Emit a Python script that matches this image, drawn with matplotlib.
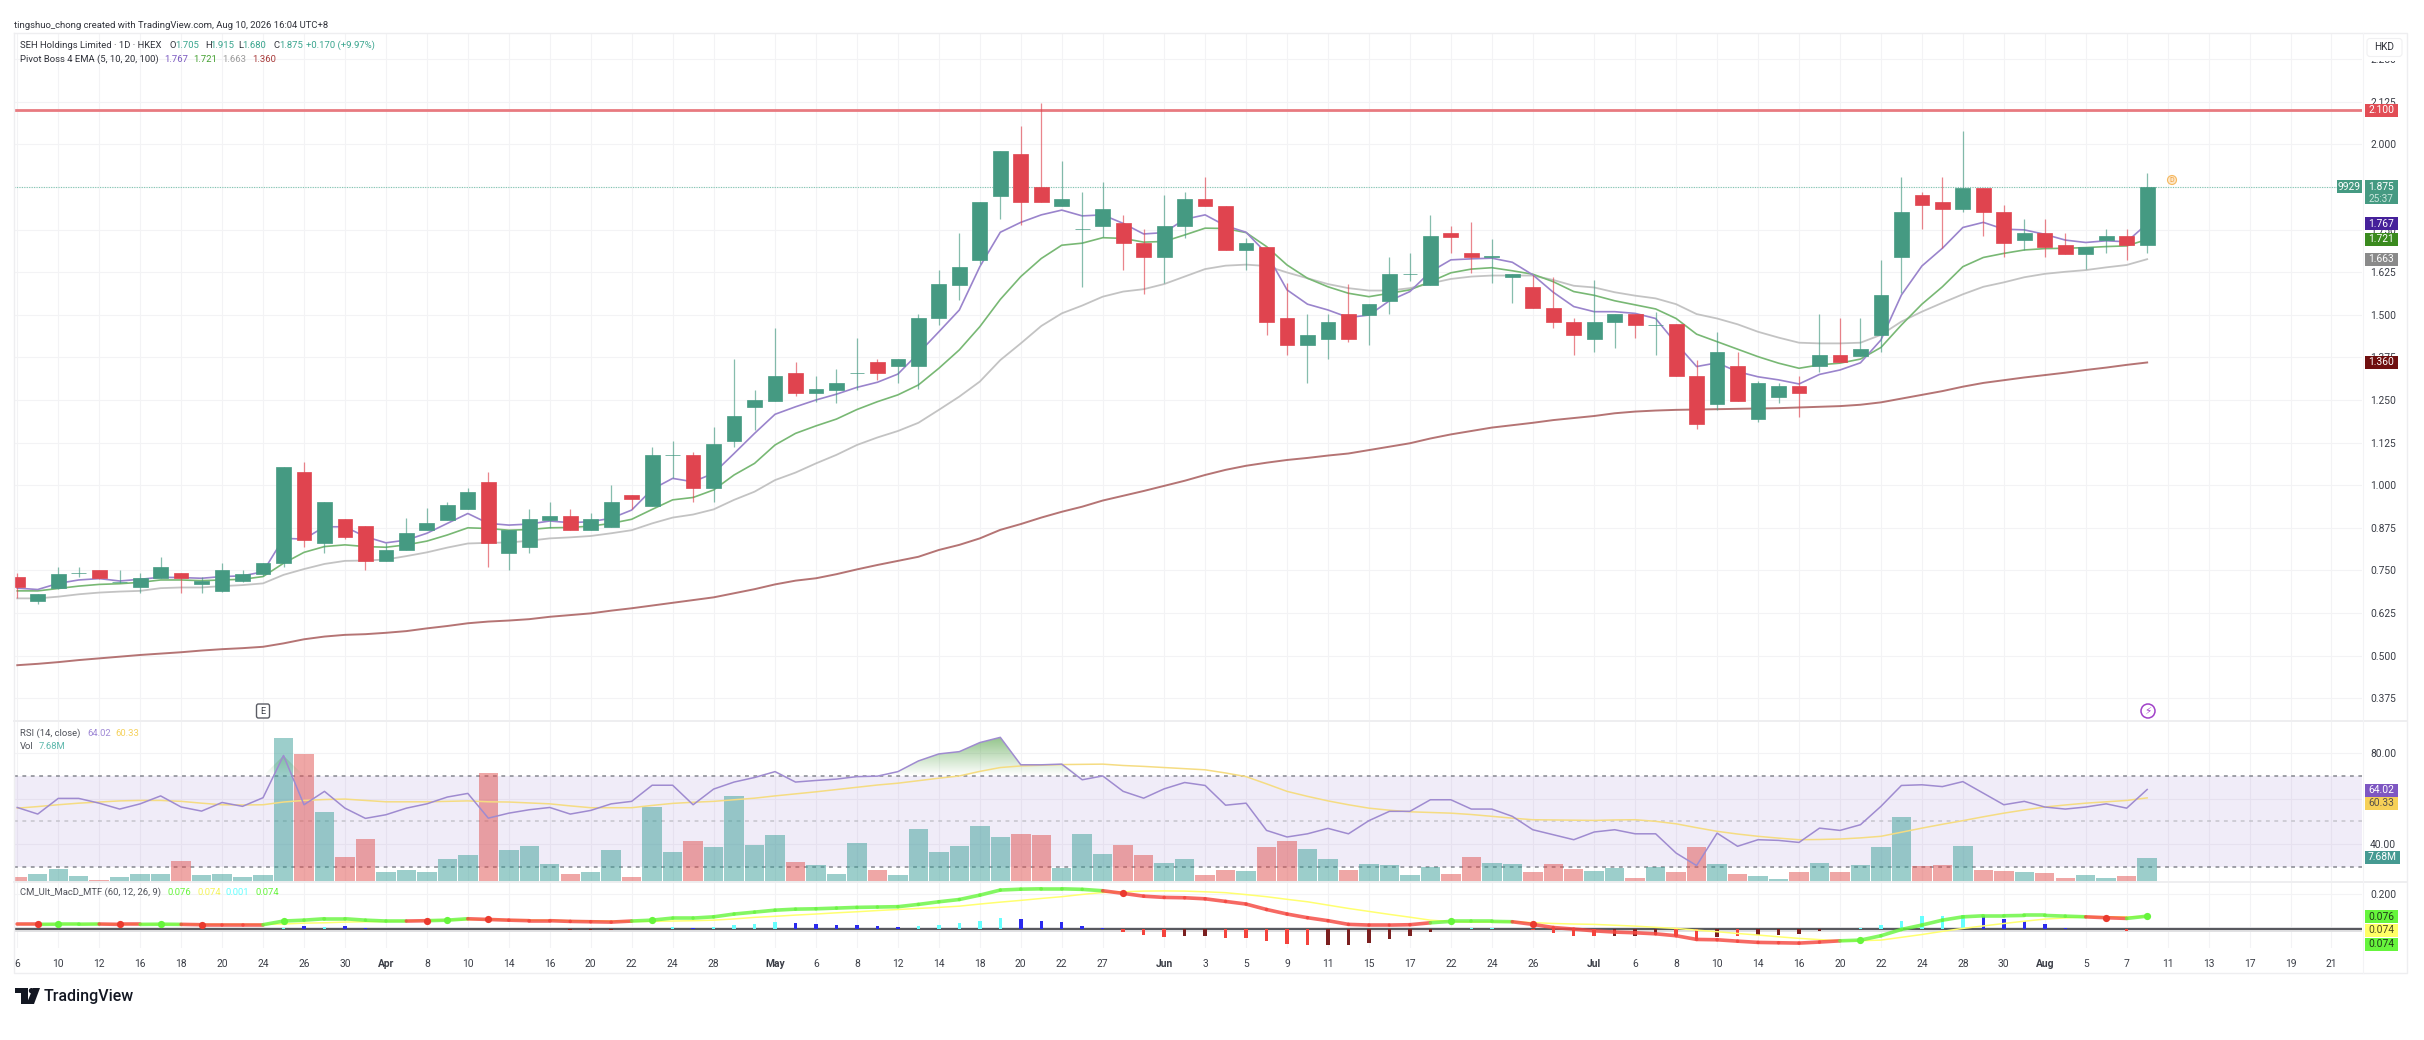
import numpy as np
import matplotlib
matplotlib.use("Agg")
import matplotlib.pyplot as plt
from matplotlib.collections import LineCollection
from matplotlib.patches import Rectangle, Circle, Polygon, FancyBboxPatch

plt.rcParams['font.family'] = ['Roboto', 'DejaVu Sans']

# candles
opens = [.73,.66,.697,.742,.751,.715,.70,.729,.742,.709,
         .689,.719,.739,.771,1.039,.829,.901,.879,.779,.81,
         .868,.899,.929,1.009,.80,.819,.898,.911,.868,.878,
         .97,.939,1.09,1.09,.991,1.129,1.229,1.248,1.33,1.269,
         1.278,1.329,1.36,1.35,1.35,1.489,1.587,1.661,1.849,1.971,
         1.874,1.82,1.753,1.759,1.77,1.71,1.669,1.759,1.841,1.82,
         1.689,1.70,1.489,1.41,1.429,1.502,1.499,1.539,1.62,1.587,
         1.741,1.68,1.669,1.61,1.58,1.52,1.48,1.429,1.48,1.502,
         1.47,1.472,1.321,1.238,1.351,1.195,1.26,1.29,1.351,1.382,
         1.38,1.441,1.67,1.85,1.83,1.811,1.873,1.80,1.719,1.74,
         1.704,1.679,1.718,1.73,1.705]
highs = [.741,.68,.761,.759,.751,.751,.741,.79,.742,.732,
         .771,.751,.771,1.052,1.069,.95,.901,.879,.829,.903,
         .932,.952,.991,1.04,.87,.93,.95,.93,.919,1.001,
         .97,1.111,1.131,1.098,1.17,1.369,1.279,1.46,1.362,1.32,
         1.34,1.431,1.37,1.37,1.502,1.631,1.741,1.83,1.981,2.054,
         2.122,1.952,1.859,1.89,1.793,1.752,1.851,1.861,1.903,1.82,
         1.724,1.70,1.592,1.502,1.502,1.59,1.532,1.67,1.68,1.793,
         1.761,1.771,1.722,1.62,1.617,1.612,1.49,1.602,1.502,1.502,
         1.509,1.472,1.368,1.45,1.392,1.307,1.301,1.32,1.502,1.49,
         1.49,1.661,1.903,1.861,1.903,2.04,1.873,1.821,1.781,1.781,
         1.741,1.699,1.752,1.752,1.915]
lows = [.668,.652,.695,.73,.725,.712,.683,.727,.683,.683,
        .688,.717,.734,.761,.82,.802,.841,.751,.779,.81,
        .868,.899,.929,.761,.751,.802,.873,.869,.868,.878,
        .93,.939,1.02,.952,.952,1.113,1.162,1.248,1.262,1.245,
        1.242,1.279,1.309,1.301,1.281,1.47,1.543,1.649,1.781,1.763,
        1.83,1.82,1.582,1.727,1.631,1.561,1.592,1.724,1.82,1.69,
        1.631,1.441,1.382,1.301,1.37,1.421,1.411,1.502,1.60,1.587,
        1.68,1.621,1.592,1.533,1.519,1.46,1.382,1.39,1.401,1.431,
        1.382,1.32,1.165,1.22,1.248,1.185,1.242,1.20,1.333,1.36,
        1.38,1.392,1.563,1.752,1.695,1.802,1.732,1.67,1.69,1.67,
        1.679,1.633,1.68,1.661,1.68]
closes = [.70,.68,.74,.742,.728,.715,.728,.76,.728,.72,
          .75,.74,.771,1.052,.839,.95,.849,.779,.81,.859,
          .888,.941,.979,.829,.87,.901,.911,.869,.901,.95,
          .96,1.09,1.09,.991,1.12,1.202,1.25,1.321,1.27,1.281,
          1.301,1.329,1.33,1.37,1.489,1.59,1.64,1.83,1.981,1.83,
          1.83,1.841,1.753,1.81,1.709,1.669,1.761,1.841,1.82,1.69,
          1.709,1.48,1.41,1.441,1.48,1.429,1.532,1.62,1.62,1.731,
          1.729,1.669,1.671,1.62,1.519,1.48,1.441,1.48,1.502,1.47,
          1.47,1.32,1.18,1.392,1.248,1.301,1.291,1.269,1.382,1.36,
          1.40,1.559,1.80,1.821,1.81,1.873,1.80,1.71,1.741,1.70,
          1.679,1.699,1.731,1.704,1.875]

ema5 = [.698,.694,.712,.722,.726,.719,.724,.730,.729,.727,
        .732,.734,.746,.844,.842,.878,.878,.849,.831,.839,
        .859,.888,.917,.888,.883,.886,.895,.890,.893,.903,
        .927,.988,1.020,1.010,1.035,1.093,1.152,1.208,1.230,1.250,
        1.267,1.287,1.302,1.326,1.387,1.450,1.514,1.641,1.742,1.771,
        1.793,1.807,1.790,1.793,1.768,1.737,1.741,1.780,1.793,1.761,
        1.742,1.680,1.573,1.531,1.514,1.492,1.499,1.541,1.568,1.626,
        1.661,1.664,1.666,1.654,1.617,1.566,1.524,1.509,1.509,1.504,
        1.489,1.416,1.348,1.359,1.333,1.318,1.309,1.297,1.325,1.338,
        1.359,1.426,1.558,1.643,1.695,1.756,1.771,1.751,1.749,1.736,
        1.719,1.712,1.717,1.714,1.767]
ema10 = [.690,.690,.697,.704,.709,.711,.715,.722,.722,.720,
         .722,.724,.732,.771,.803,.820,.825,.820,.818,.825,
         .836,.854,.875,.873,.868,.870,.875,.876,.880,.888,
         .900,.929,.957,.964,.986,1.030,1.064,1.118,1.152,1.174,
         1.194,1.222,1.245,1.265,1.294,1.343,1.397,1.465,1.545,1.612,
         1.665,1.704,1.710,1.726,1.724,1.713,1.715,1.734,1.754,1.753,
         1.741,1.700,1.646,1.607,1.582,1.563,1.553,1.563,1.573,1.597,
         1.623,1.634,1.638,1.629,1.619,1.597,1.568,1.557,1.541,1.529,
         1.517,1.489,1.443,1.421,1.399,1.377,1.358,1.343,1.353,1.358,
         1.370,1.404,1.470,1.531,1.582,1.641,1.668,1.680,1.690,1.694,
         1.695,1.697,1.700,1.702,1.721]
ema20 = [.668,.668,.673,.680,.685,.688,.690,.698,.700,.700,
         .704,.707,.712,.737,.754,.769,.778,.779,.782,.792,
         .803,.817,.829,.831,.832,.837,.844,.847,.851,.859,
         .868,.888,.905,.914,.929,.957,.981,1.015,1.037,1.064,
         1.089,1.118,1.140,1.159,1.183,1.221,1.260,1.304,1.367,1.416,
         1.467,1.504,1.527,1.553,1.568,1.575,1.590,1.612,1.634,1.644,
         1.647,1.643,1.624,1.607,1.590,1.578,1.571,1.571,1.578,1.592,
         1.605,1.612,1.615,1.615,1.615,1.602,1.585,1.580,1.566,1.556,
         1.548,1.531,1.502,1.489,1.472,1.450,1.433,1.418,1.416,1.416,
         1.418,1.441,1.480,1.509,1.535,1.560,1.582,1.595,1.610,1.620,
         1.626,1.631,1.639,1.646,1.663]
ema100 = [.472,.476,.481,.487,.492,.497,.502,.506,.510,.515,
          .519,.522,.526,.536,.548,.556,.561,.563,.567,.572,
          .580,.587,.595,.600,.603,.607,.614,.619,.624,.632,
          .639,.647,.655,.663,.671,.683,.695,.709,.720,.727,
          .739,.753,.766,.778,.790,.810,.825,.844,.869,.886,
          .905,.922,.937,.955,.969,.983,.998,1.013,1.030,1.045,
          1.057,1.066,1.074,1.080,1.087,1.093,1.103,1.113,1.123,1.137,
          1.149,1.159,1.169,1.176,1.183,1.191,1.197,1.203,1.211,1.216,
          1.219,1.221,1.222,1.223,1.224,1.225,1.226,1.228,1.230,1.232,
          1.236,1.243,1.254,1.265,1.276,1.289,1.300,1.308,1.316,1.323,
          1.330,1.338,1.345,1.353,1.360]

rsi = [56.1,53.2,60.1,60.1,58.0,55.4,57.7,61.2,56.3,54.5,
       58.3,56.6,60.4,79.0,57.3,63.2,55.8,51.3,52.9,55.8,
       57.7,60.7,62.3,51.4,53.6,55.1,56.1,53.2,54.8,57.7,
       58.8,65.9,65.9,57.3,64.2,67.3,69.3,71.9,67.3,68.0,
       68.6,69.7,69.9,71.9,76.6,79.7,80.7,84.7,87.0,74.9,
       74.9,75.2,68.3,70.0,63.2,60.2,64.3,67.1,65.8,57.1,
       58.0,46.0,43.1,44.5,46.9,44.5,50.3,54.4,54.4,59.5,
       59.5,55.4,55.4,52.2,46.3,44.1,41.9,45.3,46.3,44.5,
       44.5,36.0,30.5,44.8,39.0,41.9,41.6,40.7,47.0,46.0,
       48.5,56.6,65.8,66.1,65.3,67.5,62.4,57.3,58.8,56.3,
       55.4,56.3,57.7,55.8,64.02]
rsi_ma = [55.8,56.5,57.3,58.0,58.5,59.0,59.2,59.2,58.8,58.0,
          57.3,57.2,57.3,58.5,59.2,59.6,59.8,59.2,58.6,58.6,
          58.6,58.8,59.0,58.6,58.5,58.1,57.7,56.8,56.0,56.0,
          56.0,57.0,57.9,58.4,58.8,59.5,60.2,61.2,62.1,63.0,
          64.0,65.0,66.0,66.8,67.9,69.0,70.0,72.0,73.7,74.4,
          74.7,75.0,75.1,75.2,74.6,74.2,73.7,73.2,72.7,71.3,
          69.7,66.5,63.2,61.0,59.0,57.3,55.8,54.9,54.2,53.9,
          53.6,53.0,52.2,51.4,50.7,50.6,50.5,50.4,50.6,50.7,
          50.0,48.9,47.2,45.6,44.4,43.4,42.6,41.9,42.0,42.2,
          42.7,43.4,45.2,47.0,48.7,50.3,52.0,53.6,55.0,56.3,
          57.2,58.0,58.6,59.2,60.33]
# volume in millions
volume = [1.41,2.38,4.22,1.84,.54,1.41,2.38,2.60,6.82,2.06,
          2.60,1.51,2.06,46.6,41.4,22.8,7.90,13.96,3.03,3.79,
          3.03,7.25,8.55,35.2,10.28,11.58,5.73,2.60,3.03,10.28,
          1.51,24.3,9.63,13.3,11.14,27.7,11.8,15.15,6.28,5.41,
          2.60,12.55,3.79,2.06,16.99,9.52,11.58,17.96,14.39,15.47,
          15.15,4.33,15.58,9.09,11.79,8.76,6.17,7.36,2.06,3.79,
          3.35,11.25,13.09,10.71,7.25,3.79,5.73,5.30,2.06,4.87,
          2.60,8.11,5.95,5.73,3.14,5.73,4.22,3.57,4.33,1.08,
          4.76,3.14,11.14,5.73,2.38,1.84,.87,3.14,5.95,3.14,
          5.30,11.14,20.88,5.19,5.41,11.58,3.79,3.35,3.14,2.92,
          1.08,2.16,1.08,1.84,7.68]

macd = [.029,.029,.030,.030,.031,.029,.029,.030,.029,.027,
        .027,.027,.027,.048,.053,.061,.061,.053,.048,.048,
        .050,.053,.061,.057,.053,.050,.050,.046,.044,.042,
        .048,.053,.065,.065,.072,.088,.099,.110,.116,.118,
        .122,.126,.128,.130,.143,.158,.171,.196,.225,.230,
        .232,.232,.229,.221,.206,.190,.183,.181,.175,.160,
        .145,.114,.088,.067,.050,.029,.025,.025,.027,.038,
        .046,.046,.046,.044,.029,.011,.002,-.008,-.015,-.019,
        -.025,-.036,-.057,-.059,-.067,-.074,-.076,-.078,-.072,-.065,
        -.061,-.036,0,.025,.053,.072,.078,.078,.080,.080,
        .076,.072,.067,.063,.076]
signal = [.030,.030,.030,.030,.030,.030,.030,.029,.029,.029,
          .029,.029,.029,.031,.036,.038,.042,.044,.046,.048,
          .051,.053,.056,.058,.055,.053,.052,.050,.048,.048,
          .046,.046,.048,.050,.053,.060,.069,.075,.082,.088,
          .095,.101,.108,.114,.120,.126,.133,.145,.156,.166,
          .177,.187,.200,.211,.215,.219,.220,.219,.215,.210,
          .199,.187,.172,.158,.139,.120,.103,.086,.070,.053,
          .045,.042,.043,.044,.039,.034,.031,.029,.024,.019,
          .012,.006,-.004,-.013,-.023,-.032,-.042,-.051,-.058,-.065,
          -.064,-.061,-.045,-.029,-.011,.006,.020,.034,.047,.059,
          .066,.072,.072,.072,.074]
hist = [0,0,0,0,0,0,0,0,0,0,
        0,0,0,.006,.019,.015,.019,.008,0,0,
        0,0,.004,0,0,0,0,-.006,-.006,-.006,
        0,.004,.015,.011,.015,.027,.030,.042,.038,.029,
        .025,.025,.017,.015,.019,.023,.034,.050,.065,.061,
        .051,.042,.019,.008,-.013,-.034,-.042,-.038,-.038,-.050,
        -.050,-.065,-.084,-.088,-.088,-.088,-.076,-.057,-.038,-.015,
        0,.006,.006,0,-.006,-.023,-.038,-.038,-.038,-.038,
        -.034,-.038,-.057,-.042,-.038,-.034,-.034,-.027,-.011,0,
        .006,.023,.050,.076,.076,.084,.076,.061,.050,.030,
        .011,0,0,-.008,0]
hist_kind = ("-------------" "ababb" "----" "a" "----" "mmm" "-" "aabaaaab" "bbbbb"
             "aaaaa" "bbbbb" "rrr" "mm" "rrrrr" "mmmmmm" "-aa-" "rrrr" "mmm" "rr"
             "m" "r" "mmmm" "-" "aaaaaa" "bbbbb" "--r-")
cross_up = [2, 7, 13, 21, 31, 70, 90, 104]
cross_down = [1, 5, 9, 20, 23, 54, 74, 102]

tick_pos = [0,2,4,6,8,10,12,14,16,18,20,22,24,26,28,30,32,34,37,39,41,43,45,47,49,51,53,56,58,60,
            62,64,66,68,70,72,74,77,79,81,83,85,87,89,91,93,95,97,99,101,103,105,107,109,111,113]
tick_lab = ['6','10','12','16','18','20','24','26','30','Apr','8','10','14','16','20','22','24','28',
            'May','6','8','12','14','18','20','22','27','Jun','3','5','9','11','15','17','22','24','26',
            'Jul','6','8','10','14','16','20','22','24','28','30','Aug','5','7','11','13','17','19','21']
price_ticks = [2.25,2.125,2.0,1.875,1.75,1.625,1.5,1.375,1.25,1.125,1.0,.875,.75,.625,.5,.375]

GREEN = '#459a82'
RED = '#e0444f'
GRID = '#f3f3f5'
W, H = 2424, 1040
x = np.arange(len(closes))


def pane(left, top, right, bottom, **kw):
    return fig.add_axes([left / W, 1 - bottom / H, (right - left) / W, (bottom - top) / H], **kw)


def clean(ax, yticks=None, labels=True):
    ax.set_xlim(-0.16, 114.49)
    for s in ax.spines.values():
        s.set_visible(False)
    ax.set_xticks(tick_pos)
    ax.tick_params(length=0, labelbottom=False, labelleft=False, labelright=labels, right=False, left=False,
                   labelsize=7.4, labelcolor='#3a3d46', pad=5.8)
    ax.yaxis.tick_right()
    if yticks is not None:
        ax.set_yticks(yticks)
    ax.grid(True, color=GRID, lw=0.8)
    ax.set_axisbelow(True)


fig = plt.figure(figsize=(W / 100, H / 100), dpi=100, facecolor='white')

# ---- price pane
ax = pane(14, 33.3, 2362, 721)
ax.set_ylim(0.3083, 2.3256)
clean(ax, price_ticks)
ax.set_yticklabels(['%.3f' % t for t in price_ticks])
ax.plot(x, ema100, color='#a85c5c', lw=1.4, alpha=.85, zorder=2)
ax.plot(x, ema20, color='#bdbdbd', lw=1.3, alpha=.9, zorder=2)
ax.plot(x, ema10, color='#78b874', lw=1.2, zorder=2)
ax.plot(x, ema5, color='#9a84cc', lw=1.2, zorder=2)
ax.axhline(2.1, color='#e87a80', lw=2.0, zorder=2)
ax.axhline(1.875, color='#7fc7b2', lw=0.8, ls=(0, (1, 1.2)), zorder=2)
colors = [GREEN if c >= o else RED for o, c in zip(opens, closes)]
ax.vlines(x, lows, highs, colors=colors, lw=0.9, alpha=.65, zorder=3)
ax.bar(x, np.array(closes) - np.array(opens), bottom=opens, width=.72, color=colors, edgecolor=colors, lw=.5, zorder=4)

# ---- RSI + volume pane
RSI_LIM = (23.4, 94.2)
ax_bg = pane(14, 721, 2362, 881.7)
ax_bg.set_ylim(*RSI_LIM)
clean(ax_bg, [40, 60, 80])
ax_bg.set_yticklabels(['40.00', '', '80.00'])
ax_bg.axhspan(30, 70, color='#7e57c2', alpha=.11, lw=0, zorder=1)
for lev, col in ((70, '#85878f'), (50, '#c5c4cc'), (30, '#85878f')):
    ax_bg.axhline(lev, color=col, lw=1.1, ls=(0, (2.5, 3)), zorder=1.5)

ax_vol = pane(14, 721, 2362, 881.7, sharex=ax_bg)
ax_vol.patch.set_alpha(0)
ax_vol.set_ylim(0, 52.2)
ax_vol.axis('off')
vol_col = ['#3b9f98' if c >= o else '#e0504e' for o, c in zip(opens, closes)]
ax_vol.bar(x, volume, width=.95, color=vol_col, alpha=.5, lw=0)

ax_rsi = pane(14, 721, 2362, 881.7, sharex=ax_bg)
ax_rsi.patch.set_alpha(0)
ax_rsi.set_ylim(*RSI_LIM)
ax_rsi.axis('off')
ob = ax_rsi.fill_between(x, 70, np.maximum(rsi, 70), color='none', lw=0)
grad = np.zeros((64, 2, 4))
grad[..., :3] = (0.30, 0.62, 0.25)
grad[..., 3] = np.linspace(.6, 0, 64)[:, None]
im = ax_rsi.imshow(grad, extent=(0, 104, 70, 87), aspect='auto', origin='upper', zorder=2)
im.set_clip_path(ob.get_paths()[0], transform=ax_rsi.transData)
ax_rsi.plot(x, rsi_ma, color='#f5dc82', lw=1.1, zorder=3)
ax_rsi.plot(x, rsi, color='#9f8bd0', lw=1.1, zorder=4)
ax_rsi.set_xlim(-0.16, 114.49)
ax_rsi.set_ylim(*RSI_LIM)

# ---- MACD pane
ax_m = pane(14, 882, 2362, 948)
ax_m.set_ylim(-0.106, 0.271)
clean(ax_m, [0.2, 0])
ax_m.set_yticklabels(['0.200', ''])
ax_m.tick_params(labelbottom=True, pad=5.8)
ax_m.tick_params(axis='x', pad=8)
ax_m.set_xticklabels(tick_lab)
for lab in ax_m.get_xticklabels():
    if lab.get_text() in ('Apr', 'May', 'Jun', 'Jul', 'Aug'):
        lab.set_fontweight('bold')
ax_m.axhline(0, color='#dddddf', lw=3.4, zorder=1.8)
ax_m.axhline(0, color='#55565c', lw=1.4, zorder=1.9)
kind_col = {'a': '#66ffff', 'b': '#2a2aee', 'r': '#f4433c', 'm': '#7a1f1f'}
idx = [i for i, k in enumerate(hist_kind) if k != '-']
ax_m.bar([x[i] for i in idx], [hist[i] for i in idx], width=.17,
         color=[kind_col[hist_kind[i]] for i in idx], zorder=2)
ax_m.plot(x, signal, color='#ffff70', lw=1.1, zorder=3)
state = []
up = False
for i in x:
    if i in cross_up:
        up = True
    if i in cross_down:
        up = False
    state.append(up)
pts = np.column_stack([x, macd])
segs = np.stack([pts[:-1], pts[1:]], axis=1)
seg_col = ['#66f53c' if state[i + 1] else '#f4433c' for i in range(len(segs))]
ax_m.add_collection(LineCollection(segs, colors=seg_col, linewidths=2.6, alpha=.8, zorder=4, capstyle='round'))
ax_m.plot(cross_up, [macd[i] for i in cross_up], 'o', color='#66f53c', ms=5.2, mew=0, zorder=5)
ax_m.plot(cross_down, [macd[i] for i in cross_down], 'o', color='#ea3a2e', ms=5.2, mew=0, zorder=5)

# ---- overlay in pixel coordinates for frame, legends and price labels
ov = fig.add_axes([0, 0, 1, 1], zorder=20)
ov.set_xlim(0, W)
ov.set_ylim(H, 0)
ov.axis('off')
ov.patch.set_alpha(0)
FRAME = '#eeeef0'
ov.plot([14, 2407, 2407, 14, 14], [33.3, 33.3, 973, 973, 33.3], color=FRAME, lw=1.0)
ov.plot([14, 2407], [721, 721], color=FRAME, lw=1.4)
ov.plot([14, 2407], [882, 882], color=FRAME, lw=1.4)
ov.plot([2362.5, 2362.5], [33.3, 973], color=GRID, lw=0.8)


def txt(px, py, s, color='#3a3d46', size=6.8, **kw):
    kw.setdefault('va', 'center')
    kw.setdefault('ha', 'left')
    ov.text(px, py, s, color=color, fontsize=size, **kw)


def box(py, s, bg, fg='white', x0=2364.6, x1=2398):
    ov.add_patch(Rectangle((x0, py - 6.5), x1 - x0, 13, color=bg, lw=0, zorder=6))
    ov.text((x0 + x1) / 2, py, s, color=fg, fontsize=7.4, ha='center', va='center', zorder=7)


def py_price(p):
    return 144.3 + (2.0 - p) * 340.9


txt(14, 25, 'tingshuo_chong created with TradingView.com, Aug 10, 2026 16:04 UTC+8', '#30323a')
TEAL = '#3aa58e'
txt(20, 45.7, 'SEH Holdings Limited · 1D · HKEX', '#30323a')
for px, s in ((170, 'O'), (205.6, 'H'), (238, 'L'), (274, 'C')):
    txt(px, 45.7, s, '#30323a')
for px, s in ((175.5, '1.705'), (210.5, '1.915'), (242.5, '1.680'), (279, '1.875'), (306, '+0.170 (+9.97%)')):
    txt(px, 45.7, s, TEAL)
txt(20, 59, 'Pivot Boss 4 EMA (5, 10, 20, 100)', '#30323a')
for px, s, c in ((164, '1.767', '#7a58c0'), (193, '1.721', '#43a030'), (222, '1.663', '#9a9a9a'), (252, '1.360', '#a83a3a')):
    txt(px, 59, s, c)
txt(20, 733.5, 'RSI (14, close)', '#50525a')
txt(87, 733.5, '64.02', '#a08ad6')
txt(115, 733.5, '60.33', '#f5d25e')
txt(20, 746.7, 'Vol', '#50525a')
txt(38.5, 746.7, '7.68M', '#5eb8ac')
txt(20, 892.7, 'CM_Ult_MacD_MTF (60, 12, 26, 9)', '#50525a')
for px, s, c in ((168, '0.076', '#66f53c'), (197, '0.074', '#f4f45a'), (226, '0.001', '#66ffff'), (255, '0.074', '#66f53c')):
    txt(px, 892.7, s, c)

# price scale labels, the currency box sits on top of the 2.250 tick
ov.add_patch(Rectangle((2365, 38), 39, 22.5, color='white', lw=0, zorder=5))
ov.add_patch(FancyBboxPatch((2367, 38.5), 35, 18, boxstyle='round,pad=0,rounding_size=3', fc='white', ec='#f0f0f2', lw=.8, zorder=6))
ov.text(2384.5, 47.5, 'HKD', color='#30323a', fontsize=7.2, ha='center', va='center', zorder=7)
box(py_price(2.1), '2.100', '#e24d55')
box(py_price(1.875), '1.875', GREEN)
ov.add_patch(Rectangle((2364.6, py_price(1.875) + 6), 33.4, 11.5, color='#459a82', lw=0, zorder=6))
ov.text(2381.3, py_price(1.875) + 12, '25:37', color='#c8e6dc', fontsize=7.2, ha='center', va='center', zorder=7)
box(py_price(1.875), '9929', GREEN, x0=2337, x1=2362)
box(py_price(1.767), '1.767', '#45209a')
box(py_price(1.721), '1.721', '#3a8a1e')
box(py_price(1.663), '1.663', '#8a8a8a')
box(py_price(1.36), '1.360', '#6f0f0f')
box(790, '64.02', '#7e57c2')
box(803.5, '60.33', '#f6d057', fg='#55504a')
box(857, '7.68M', '#459a92', x1=2400)
box(916.7, '0.076', '#66f53c', fg='#1f3a18')
box(930, '0.074', '#ffff66', fg='#4a4a20')
box(944, '0.074', '#66f53c', fg='#1f3a18')

# markers on the chart
ov.add_patch(FancyBboxPatch((256.5, 704), 13, 14, boxstyle='round,pad=0,rounding_size=2', fc='white', ec='#5a5c64', lw=1.0))
txt(263, 711, 'E', '#3a3d46', ha='center', size=6.6)
ov.add_patch(Circle((2148, 711), 7, fc='white', ec='#a040c8', lw=1.1))
txt(2148, 711, '⚡', '#a040c8', ha='center', size=7.5, family='DejaVu Sans', fontweight='bold')
ov.add_patch(Circle((2172, 180), 4.5, fc='#fde7c8', ec='#f5b860', lw=.8))
txt(2172, 180, 'D', '#f0a040', ha='center', size=5)

# TradingView logo
ov.add_patch(Polygon([(15, 988), (28, 988), (28, 1004), (21, 1004), (21, 993), (15, 993)], color='#131722', lw=0))
ov.add_patch(Circle((31.5, 990.7), 2.7, color='#131722', lw=0))
ov.add_patch(Polygon([(33, 988), (40, 988), (34, 1004), (26.5, 1004)], color='#131722', lw=0))
txt(44, 996, 'TradingView', '#131722', size=11.5, fontweight='medium')

fig.savefig('out.png', dpi=100, facecolor='white')
